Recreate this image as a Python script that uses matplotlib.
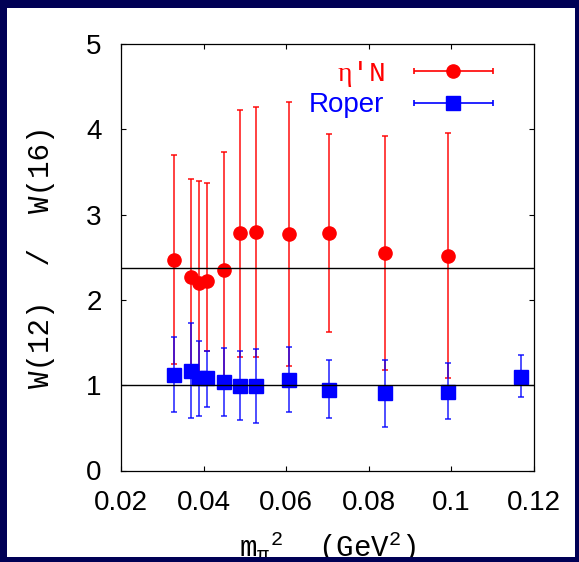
import matplotlib
matplotlib.use("Agg")
import matplotlib.pyplot as plt
import numpy as np
from matplotlib.lines import Line2D
from matplotlib.collections import LineCollection
from matplotlib.container import ErrorbarContainer
from matplotlib.legend_handler import HandlerErrorbar
from matplotlib.patches import Rectangle

# eta' N  (red circles): m_pi^2, ratio, lower / upper ends of the error bar
mpi2_eta = [0.0328, 0.0369, 0.0389, 0.0409, 0.0449, 0.0488, 0.0526, 0.0606, 0.0703, 0.0839, 0.0992]
ratio_eta = [2.47, 2.27, 2.20, 2.22, 2.35, 2.78, 2.80, 2.77, 2.79, 2.55, 2.52]
lo_eta = [1.25, 1.12, 1.01, 1.40, 0.97, 1.33, 1.33, 1.22, 1.62, 1.18, 1.08]
hi_eta = [3.70, 3.42, 3.39, 3.37, 3.73, 4.23, 4.26, 4.32, 3.95, 3.92, 3.96]

# Roper (blue squares)
mpi2_rop = [0.0328, 0.0369, 0.0389, 0.0409, 0.0449, 0.0488, 0.0526, 0.0606, 0.0703, 0.0839, 0.0992, 0.1169]
ratio_rop = [1.12, 1.17, 1.08, 1.08, 1.04, 0.99, 0.99, 1.06, 0.94, 0.91, 0.92, 1.10]
lo_rop = [0.69, 0.615, 0.64, 0.745, 0.64, 0.59, 0.56, 0.69, 0.61, 0.51, 0.60, 0.86]
hi_rop = [1.56, 1.73, 1.52, 1.40, 1.44, 1.40, 1.42, 1.45, 1.29, 1.30, 1.26, 1.35]

ref_levels = [2.37, 1.0]
xticks = [0.02, 0.04, 0.06, 0.08, 0.10, 0.12]
xticklabels = ["0.02", "0.04", "0.06", "0.08", "0.1", "0.12"]
yticks = [0, 1, 2, 3, 4, 5]

plt.rcParams["mathtext.fontset"] = "custom"
plt.rcParams["mathtext.rm"] = "Liberation Mono"
plt.rcParams["mathtext.it"] = "Liberation Mono"
plt.rcParams["mathtext.sf"] = "Liberation Serif"
plt.rcParams["mathtext.default"] = "rm"

NAVY = "#000055"
W, H = 579, 562
fig = plt.figure(figsize=(W / 100, H / 100), dpi=100, facecolor=NAVY)
# white panel inside the navy frame
fig.patches.append(Rectangle((7 / W, 1 - 557 / H), (575 - 7) / W, (557 - 8) / H,
                             transform=fig.transFigure, facecolor="white", edgecolor="none", zorder=-5))
# bottom strip drawn over the x label (it is clipped in the original)
fig.patches.append(Rectangle((0, 0), 1, (H - 557) / H, transform=fig.transFigure,
                             facecolor=NAVY, edgecolor="none", zorder=20))

ax = fig.add_axes([121 / W, 1 - 470.5 / H, (534 - 121) / W, (470.5 - 44) / H])
ax.set_facecolor("none")


def yerr(y, lo, hi):
    y, lo, hi = map(np.asarray, (y, lo, hi))
    return [y - lo, hi - y]


ax.errorbar(mpi2_eta, ratio_eta, yerr=yerr(ratio_eta, lo_eta, hi_eta), fmt="o", color="red",
            ms=9.5, elinewidth=1.3, capsize=2.5, capthick=1.3, ecolor=(1, 0, 0, 0.8), zorder=2)
ax.errorbar(mpi2_rop, ratio_rop, yerr=yerr(ratio_rop, lo_rop, hi_rop), fmt="s", color="blue",
            ms=10, elinewidth=1.3, capsize=2.5, capthick=1.3, ecolor=(0, 0, 1, 0.75), zorder=3)
for lev in ref_levels:
    ax.axhline(lev, color="black", lw=1.0, zorder=4)

ax.set_xlim(0.02, 0.12)
ax.set_ylim(0, 5)
ax.set_xticks(xticks)
ax.set_xticklabels(xticklabels)
ax.set_yticks(yticks)
ax.tick_params(direction="in", top=True, right=True, length=3.6, width=0.8, pad=14,
               labelsize=20)
for lab in ax.get_xticklabels() + ax.get_yticklabels():
    lab.set_fontfamily("Liberation Sans")
for sp in ax.spines.values():
    sp.set_linewidth(0.9)

ax.set_ylabel("W(12)  /  W(16)", fontfamily="Liberation Mono", fontsize=21, labelpad=22)
ax.set_xlabel(r"m$_{\pi}{}^{2}$  (GeV$^{2}$)", fontfamily="Liberation Mono", fontsize=21,
              labelpad=10)


def legend_proxy(color, marker, ms):
    line = Line2D([], [], color=color, marker=marker, ms=ms, ls="none")
    cap = Line2D([], [], color=color, marker="|", ms=5, mew=1.2, ls="none")
    bars = LineCollection([], colors=[color], linewidths=1.2)
    return ErrorbarContainer((line, (cap, cap), (bars,)), has_xerr=True, has_yerr=False)


handles = [legend_proxy("red", "o", 9.5), legend_proxy("blue", "s", 10)]
leg = ax.legend(handles, [r"$\mathsf{\eta}$′N", "Roper"], loc="upper right",
                bbox_to_anchor=(0.9, 0.965),
                frameon=False, markerfirst=False, borderpad=0, borderaxespad=0,
                handlelength=2.85, handletextpad=1.05, labelspacing=0.12, fontsize=20,
                handler_map={ErrorbarContainer: HandlerErrorbar(xerr_size=1.42)})
t_eta, t_rop = leg.get_texts()
t_eta.set_color("red")
t_eta.set_fontfamily("Liberation Mono")
t_rop.set_color("blue")
t_rop.set_fontfamily("Liberation Sans")

fig.savefig("out.png", dpi=100, facecolor=NAVY)
